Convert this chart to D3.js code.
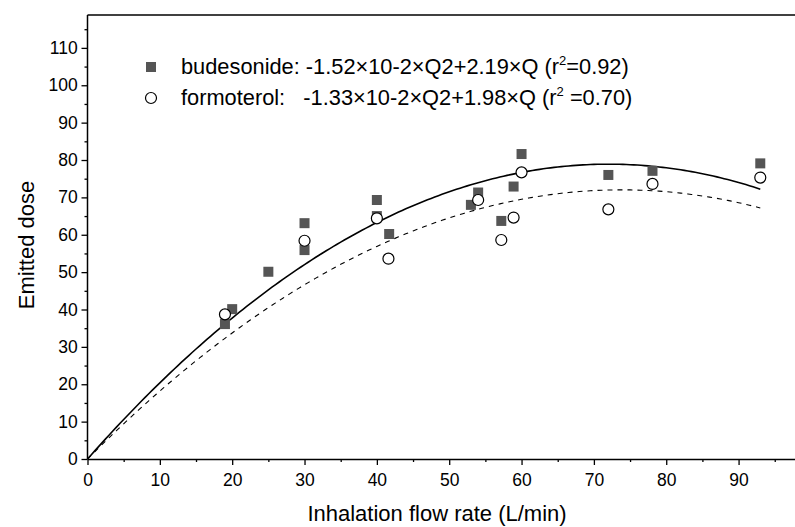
<!DOCTYPE html>
<html>
<head>
<meta charset="utf-8">
<script src="https://cdn.jsdelivr.net/npm/d3@7"></script>
<style>
  html, body { margin: 0; padding: 0; background: #fff; }
  svg { display: block; font-family: "Liberation Sans", Arial, sans-serif; }
</style>
</head>
<body>
<svg id="chart" width="795" height="527"></svg>
<script>
// ---- data ----
const budQ    = [19, 20, 25, 30, 30, 40, 40, 41.7, 53, 54, 57.2, 58.9, 60, 72, 78.1, 93];
const budDose = [36.1, 40.1, 50.1, 63.1, 55.9, 69.3, 65.0, 60.2, 68.0, 71.3, 63.7, 72.9, 81.6, 76.0, 77.1, 79.1];
const formQ    = [19, 30, 40, 41.6, 54, 57.2, 58.9, 60, 72, 78.1, 93];
const formDose = [38.7, 58.4, 64.4, 53.6, 69.3, 58.6, 64.6, 76.7, 66.8, 73.6, 75.3];
// fitted quadratic curves: dose = a*Q^2 + b*Q
const budFit  = [-0.0152, 2.19];
const formFit = [-0.0132, 1.95];
const fitRange = [0, 93];
const xTicks = [0, 10, 20, 30, 40, 50, 60, 70, 80, 90];
const yTicks = [0, 10, 20, 30, 40, 50, 60, 70, 80, 90, 100, 110];
const xMinor = [5, 15, 25, 35, 45, 55, 65, 75, 85, 95];
const yMinor = [5, 15, 25, 35, 45, 55, 65, 75, 85, 95, 105, 115];
const legendLabels = [
  ["budesonide: -1.52×10-2×Q2+2.19×Q (r", "2", "=0.92)"],
  ["formoterol:   -1.33×10-2×Q2+1.98×Q (r", "2", " =0.70)"]
];

// ---- layout ----
const svg = d3.select("#chart");
const x = d3.scaleLinear().domain([0, 97.8]).range([87.5, 795]);
const y = d3.scaleLinear().domain([0, 118.8]).range([459, 15]);

// top frame line
svg.append("line").attr("x1", x(0)).attr("x2", 795).attr("y1", y(118.8)).attr("y2", y(118.8))
  .attr("stroke", "#000").attr("stroke-width", 1.5);

// axes
const xAxis = svg.append("g").attr("transform", `translate(0,${y(0)})`)
  .call(d3.axisBottom(x).tickValues(xTicks).tickFormat(d3.format("d")).tickSize(6).tickSizeOuter(0));
svg.append("g").attr("transform", `translate(0,${y(0)})`)
  .call(d3.axisBottom(x).tickValues(xMinor).tickFormat("").tickSize(3).tickSizeOuter(0))
  .select(".domain").remove();
const yAxis = svg.append("g").attr("transform", `translate(${x(0)},0)`)
  .call(d3.axisLeft(y).tickValues(yTicks).tickFormat(d3.format("d")).tickSize(6).tickSizeOuter(0));
svg.append("g").attr("transform", `translate(${x(0)},0)`)
  .call(d3.axisLeft(y).tickValues(yMinor).tickFormat("").tickSize(3).tickSizeOuter(0))
  .select(".domain").remove();

svg.selectAll(".domain").attr("stroke", "#000").attr("stroke-width", 1.5);
svg.selectAll(".tick line").attr("stroke", "#000").attr("stroke-width", 1.3);
svg.selectAll(".tick text").attr("font-size", 17.5).attr("fill", "#000")
  .attr("font-family", "'Liberation Sans', Arial, sans-serif");
xAxis.selectAll(".tick text").attr("dy", "1.0em");
yAxis.selectAll(".tick text").attr("dx", "-0.05em");
yAxis.select(".domain").attr("d", `M0,${y(0)}V${y(118.8)}`);

// axis titles
svg.append("text").attr("x", 437).attr("y", 521).attr("text-anchor", "middle")
  .attr("font-size", 22).text("Inhalation flow rate (L/min)");
svg.append("text").attr("transform", `translate(34,${(y(0) + y(118.8)) / 2 + 8}) rotate(-90)`)
  .attr("text-anchor", "middle").attr("font-size", 22).text("Emitted dose");

// fitted curves
const qs = d3.range(fitRange[0], fitRange[1] + 0.001, 0.5);
const line = d3.line().x(d => x(d[0])).y(d => y(d[1]));
svg.append("path").datum(qs.map(q => [q, budFit[0] * q * q + budFit[1] * q]))
  .attr("d", line).attr("fill", "none").attr("stroke", "#000").attr("stroke-width", 1.6);
svg.append("path").datum(qs.map(q => [q, formFit[0] * q * q + formFit[1] * q]))
  .attr("d", line).attr("fill", "none").attr("stroke", "#000").attr("stroke-width", 1.1)
  .attr("stroke-dasharray", "5,5");

// markers
const sq = 10;
svg.append("g").selectAll("rect").data(budQ.map((q, i) => [q, budDose[i]])).join("rect")
  .attr("x", d => x(d[0]) - sq / 2).attr("y", d => y(d[1]) - sq / 2)
  .attr("width", sq).attr("height", sq).attr("fill", "#555");
svg.append("g").selectAll("circle").data(formQ.map((q, i) => [q, formDose[i]])).join("circle")
  .attr("cx", d => x(d[0])).attr("cy", d => y(d[1])).attr("r", 5.5)
  .attr("fill", "#fff").attr("stroke", "#000").attr("stroke-width", 1.2);

// legend
const lg = svg.append("g");
const ly = [67, 98];
lg.append("rect").attr("x", 151 - sq / 2).attr("y", ly[0] - sq / 2).attr("width", sq).attr("height", sq).attr("fill", "#555");
lg.append("circle").attr("cx", 151).attr("cy", ly[1]).attr("r", 5.5).attr("fill", "#fff").attr("stroke", "#000").attr("stroke-width", 1.2);
legendLabels.forEach((parts, i) => {
  const t = lg.append("text").attr("x", 181).attr("y", ly[i] + 7).attr("font-size", 21.8)
    .attr("xml:space", "preserve").style("white-space", "pre");
  t.append("tspan").text(parts[0]);
  t.append("tspan").attr("font-size", 13).attr("dy", -9).text(parts[1]);
  t.append("tspan").attr("dy", 9).text(parts[2]);
});
</script>
</body>
</html>
